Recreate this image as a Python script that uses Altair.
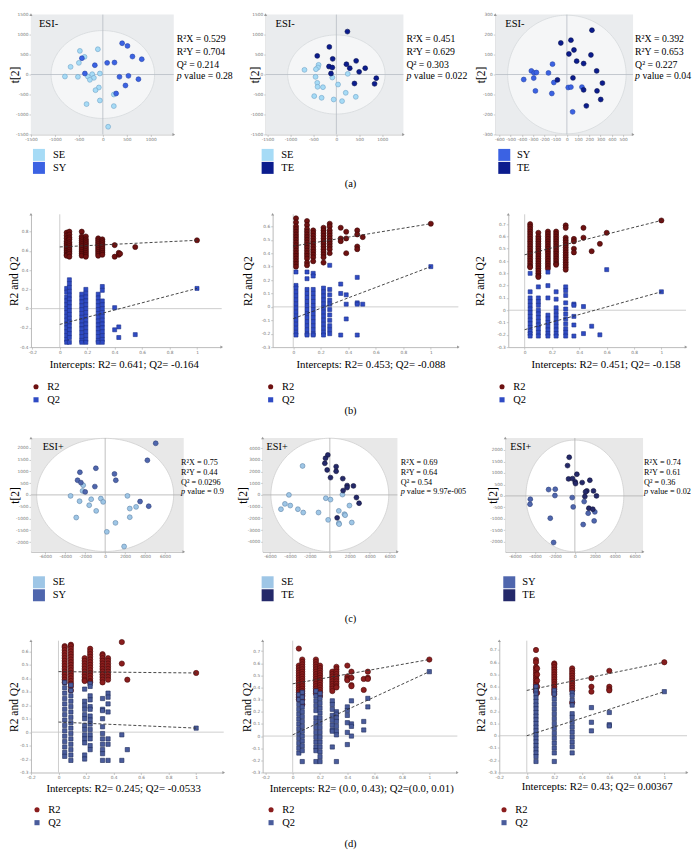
import altair as alt
import numpy as np
import pandas as pd

SERIF = "Liberation Serif"
SANS = "DejaVu Sans"

# ---------------- (a) ESI- score plots: points (t[1], t[2]) ----------------
A1_SE = [(-479, 591), (-382, 441), (-104, 633), (-500, 292), (-673, 192), (-791, -50), (-520, -58),
         (-312, -50), (-222, 8), (-187, -83), (-271, -133), (-62, 25), (-83, -325), (-153, -392),
         (-62, -650), (-340, -741), (229, -500), (229, -791), (111, -1308)]
A1_SY = [(-437, 408), (-167, 233), (-375, 25), (90, 292), (243, 300), (403, 783), (514, 716),
         (618, 450), (812, 383), (347, -58), (534, -33), (743, -117), (472, -275), (278, -475)]
A2_SE = [(-694, 117), (-387, 242), (-402, 175), (-445, 133), (-453, -58), (-416, -208), (-409, -308),
         (-292, -317), (-88, -75), (248, 17), (37, -250), (-482, -541), (-321, -583), (-58, -625),
         (124, -666), (204, -458), (423, -558)]
A2_TE = [(241, 1075), (-153, 691), (-416, 466), (-80, 392), (-161, 200), (-88, 175), (-117, 25),
         (219, 258), (292, 158), (431, 342), (496, 67), (628, 158), (394, -225), (869, -92), (832, -233)]
A3_SY = [(-316, 18), (-292, 8), (-271, 10), (-384, -25), (-295, -18), (-280, -82), (-164, 8),
         (-128, 52), (-116, -40), (-134, -95), (12, -65), (36, -63), (134, -63), (51, -187)]
A3_TE = [(223, 222), (-54, 158), (36, 172), (63, 123), (18, 103), (87, 67), (149, 55), (214, 98),
         (265, 18), (54, -17), (-84, -27), (149, -77), (268, -82), (316, -43), (301, -125), (173, -157)]
A_STATS = [["0.529", "0.704", "0.214", "0.28"],
           ["0.451", "0.629", "0.303", "0.022"],
           ["0.392", "0.653", "0.227", "0.04"]]

# ---------------- (c) ESI+ score plots ----------------
C1_SE = [(-3463, -42), (-2564, -268), (-2198, 409), (-2264, 169), (-1598, -438), (-1399, -184),
         (-899, -678), (-433, -155), (-200, -297), (2231, -42), (2464, -579), (3097, -508),
         (-2897, -960), (2464, -946), (1032, -1186), (167, -1567), (1898, -2189)]
C1_SY = [(5062, 2189), (4229, 1468), (-2531, 960), (-932, 1130), (-2764, 621), (-2431, 522),
         (-1998, 127), (-1032, 353), (932, 890), (1066, 621), (3497, -282), (4362, -480)]
C2_SE = [(-2731, 2471), (-4096, 0), (-4496, -767), (-3963, -909), (-4895, -1221), (-3197, -1221),
         (-2664, -1505), (-1132, -1505), (-400, -284), (67, -398), (1265, 28), (1965, -909),
         (899, -1363), (1465, -1647), (1532, -1732), (-167, -2130), (899, -2414), (932, -2499), (2198, -2357)]
C2_TE = [(-200, 3408), (-433, 3124), (-500, 2698), (-266, 2130), (633, 2414), (633, 2016), (67, 1477),
         (1299, 1392), (1732, 795), (1732, 625), (1332, 369), (2364, 767), (2664, -227), (2930, -710),
         (733, -1960)]
C3_SY = [(-2631, 276), (-1965, 290), (-1998, 15), (-4462, -145), (-4496, -363), (-266, -73),
         (-167, -479), (932, -247), (1332, -754), (1998, -696), (1931, -1088), (833, -1247),
         (-2464, -972), (-2131, -2030)]
C3_TE = [(-566, 1682), (-733, 1320), (-633, 740), (-233, 754), (200, 943), (33, 609), (67, 537),
         (733, 580), (1499, 682), (1199, 218), (1066, 174), (1865, 218), (2165, 0), (999, -29),
         (1399, -537), (1798, -580)]
C_STATS = [["0.75", "0.44", "0.0296", "0.9"],
           ["0.69", "0.64", "0.54", "9.97e-005"],
           ["0.74", "0.61", "0.36", "0.02"]]

# ---------------- (b) permutation tests, ESI- ----------------
B1_R2 = [(0.05, [0.79, 0.76, 0.73, 0.70, 0.68, 0.66, 0.64, 0.62, 0.60, 0.58, 0.56, 0.55]),
         (0.07, [0.80, 0.77, 0.74, 0.72, 0.69, 0.67, 0.65, 0.63, 0.61, 0.59, 0.57, 0.54]),
         (0.16, [0.80, 0.75, 0.73, 0.71, 0.69, 0.67, 0.65, 0.63, 0.61, 0.59, 0.57, 0.55]),
         (0.19, [0.75, 0.72, 0.70, 0.68, 0.66, 0.64, 0.62, 0.60, 0.58, 0.56, 0.54]),
         (0.28, [0.73, 0.71, 0.69, 0.67, 0.65, 0.63, 0.61, 0.59, 0.57, 0.55]),
         (0.31, [0.72, 0.70, 0.68, 0.66, 0.64, 0.62, 0.60, 0.58, 0.56]),
         (0.40, [0.66, 0.54]), (0.43, [0.56, 0.58]), (0.44, [0.57]), (0.55, [0.64]), (1.0, [0.71])]
B1_Q2 = [(0.05, [0.21, 0.17, 0.12, 0.08, 0.04, 0.00, -0.04, -0.08, -0.12, -0.16, -0.20, -0.24, -0.28, -0.32, -0.35]),
         (0.07, [0.30, 0.26, 0.22, 0.18, 0.14, 0.10, 0.06, 0.02, -0.02, -0.06, -0.10, -0.14, -0.18, -0.22, -0.26, -0.30, -0.35]),
         (0.16, [0.15, 0.11, 0.07, 0.03, -0.01, -0.05, -0.09, -0.13, -0.17, -0.21, -0.25, -0.29, -0.33, -0.35]),
         (0.19, [0.20, 0.16, 0.12, 0.08, 0.04, 0.00, -0.04, -0.08, -0.12, -0.16, -0.20, -0.24, -0.28, -0.32, -0.35]),
         (0.28, [0.15, 0.11, 0.07, 0.03, -0.01, -0.05, -0.09, -0.13, -0.17, -0.21, -0.25, -0.29, -0.33, -0.35]),
         (0.31, [0.23, 0.19, 0.08, 0.04, 0.00, -0.04, -0.08, -0.12, -0.16, -0.20, -0.24, -0.28, -0.32, -0.35]),
         (0.40, [0.01, -0.22]), (0.43, [-0.19, -0.30]), (0.55, [-0.27]), (1.0, [0.21])]
B1_LINE = {"R2": [0.641, 0.71], "Q2": [-0.164, 0.21]}

B2_R2 = [(0.02, [0.66, 0.63, 0.60, 0.58, 0.56, 0.54, 0.52, 0.50, 0.48, 0.46, 0.44, 0.42, 0.40, 0.38, 0.36, 0.34, 0.32, 0.30]),
         (0.10, [0.64, 0.61, 0.58, 0.56, 0.54, 0.52, 0.50, 0.48, 0.46, 0.44, 0.42, 0.40, 0.38, 0.36, 0.33, 0.31]),
         (0.145, [0.57, 0.55, 0.53, 0.51, 0.49, 0.47, 0.45, 0.43, 0.41, 0.39, 0.37, 0.34]),
         (0.22, [0.59, 0.57, 0.55, 0.53, 0.51, 0.49, 0.47, 0.45, 0.43, 0.41, 0.39, 0.37, 0.33]),
         (0.265, [0.62, 0.60, 0.57, 0.55, 0.53, 0.51, 0.49, 0.47, 0.45, 0.43, 0.40]),
         (0.345, [0.59, 0.51, 0.49]), (0.385, [0.56, 0.51, 0.40]), (0.465, [0.57, 0.54, 0.45, 0.43]),
         (0.505, [0.52]), (1.0, [0.62])]
B2_Q2 = [(0.02, [0.26, 0.16, 0.14, 0.11, 0.08, 0.05, 0.02, -0.01, -0.04, -0.07, -0.10, -0.13, -0.16, -0.19, -0.21]),
         (0.10, [0.26, 0.21, 0.13, 0.10, 0.07, 0.04, 0.01, -0.02, -0.05, -0.08, -0.11, -0.14, -0.17, -0.20, -0.21]),
         (0.145, [0.25, 0.23, 0.13, 0.10, 0.07, 0.04, 0.01, -0.02, -0.05, -0.08, -0.11, -0.14, -0.17, -0.20, -0.21]),
         (0.22, [0.14, 0.11, 0.08, 0.05, 0.02, -0.01, -0.04, -0.07, -0.10, -0.13, -0.16, -0.19, -0.21]),
         (0.265, [0.31, 0.13, 0.09, 0.05, 0.02, -0.02, -0.06, -0.10, -0.14, -0.17, -0.20]),
         (0.345, [0.17, 0.10, -0.21]), (0.385, [0.09, 0.02, -0.09]), (0.465, [0.22, 0.03, 0.02, -0.21]),
         (0.505, [0.02]), (1.0, [0.30])]
B2_LINE = {"R2": [0.453, 0.62], "Q2": [-0.088, 0.30]}

B3_R2 = [(0.04, [0.70, 0.68, 0.66, 0.64, 0.62, 0.60, 0.58, 0.56, 0.54, 0.52, 0.50, 0.48, 0.46, 0.44, 0.42, 0.40, 0.38, 0.36, 0.35]),
         (0.10, [0.63, 0.60, 0.58, 0.56, 0.54, 0.52, 0.50, 0.48, 0.46, 0.44, 0.42, 0.40, 0.38, 0.36, 0.34, 0.32, 0.30, 0.28, 0.27]),
         (0.17, [0.64, 0.62, 0.60, 0.58, 0.56, 0.54, 0.52, 0.50, 0.48, 0.46, 0.44, 0.42, 0.40, 0.38, 0.36, 0.34]),
         (0.23, [0.64, 0.62, 0.60, 0.58, 0.56, 0.54, 0.52, 0.50, 0.48, 0.46, 0.44, 0.42, 0.40, 0.38, 0.37]),
         (0.30, [0.69, 0.67, 0.59, 0.57, 0.55, 0.53, 0.51, 0.49, 0.47, 0.45, 0.43, 0.41, 0.39, 0.37, 0.35, 0.33]),
         (0.36, [0.58, 0.56, 0.50, 0.47]), (0.43, [0.67, 0.59]), (0.49, [0.48]), (0.55, [0.54]),
         (0.60, [0.63]), (1.0, [0.73])]
B3_Q2 = [(0.04, [0.30, 0.15, 0.10, 0.07, 0.04, 0.01, -0.02, -0.05, -0.08, -0.11, -0.14, -0.17, -0.19, -0.21]),
         (0.10, [0.19, 0.10, 0.07, 0.04, 0.00, -0.03, -0.06, -0.09, -0.12, -0.15, -0.18, -0.21]),
         (0.17, [0.31, 0.20, 0.10, -0.04, -0.07, -0.10, -0.13, -0.16, -0.19, -0.21]),
         (0.23, [0.15, 0.09, 0.02, -0.01, -0.04, -0.07, -0.10, -0.13, -0.16, -0.19, -0.21]),
         (0.30, [0.19, 0.16, 0.12, 0.06, 0.01, -0.03, -0.07, -0.11, -0.15, -0.18, -0.21]),
         (0.36, [0.05, 0.04, -0.05, -0.12, -0.21]), (0.43, [0.03, -0.19]), (0.49, [-0.13]),
         (0.55, [-0.20]), (0.60, [0.33]), (1.0, [0.15])]
B3_LINE = {"R2": [0.451, 0.73], "Q2": [-0.158, 0.15]}

# ---------------- (d) permutation tests, ESI+ ----------------
D1_R2 = [(0.045, [0.64, 0.63, 0.61, 0.59, 0.57, 0.55, 0.53, 0.51, 0.49, 0.47, 0.45, 0.43, 0.41, 0.39, 0.37]),
         (0.09, [0.65, 0.64, 0.62, 0.60, 0.58, 0.56, 0.54, 0.52, 0.50, 0.48, 0.46, 0.44, 0.42, 0.40, 0.38, 0.36, 0.34, 0.31]),
         (0.19, [0.55, 0.53, 0.51, 0.49, 0.47, 0.45, 0.43, 0.41, 0.39, 0.38]),
         (0.23, [0.62, 0.60, 0.58, 0.56, 0.54, 0.52, 0.50, 0.48, 0.46, 0.44, 0.42, 0.40, 0.38, 0.37]),
         (0.32, [0.58, 0.57, 0.55, 0.53, 0.51, 0.49, 0.47, 0.45, 0.43, 0.41, 0.39, 0.37]),
         (0.36, [0.55, 0.53, 0.51, 0.49, 0.47, 0.45, 0.43, 0.41, 0.39]),
         (0.46, [0.67, 0.51]), (0.50, [0.39]), (1.0, [0.44])]
D1_Q2 = [(0.045, [0.37, 0.33, 0.29, 0.25, 0.21, 0.17, 0.13, 0.09, 0.05, 0.01, -0.03, -0.07, -0.11, -0.15, -0.18]),
         (0.09, [0.35, 0.31, 0.27, 0.23, 0.19, 0.15, 0.11, 0.07, 0.03, -0.01, -0.05, -0.09, -0.13, -0.17, -0.21]),
         (0.19, [0.32, 0.23, 0.20, 0.17, 0.13, 0.10, 0.05, 0.02, -0.02, -0.05, -0.08, -0.17, -0.20]),
         (0.23, [0.36, 0.34, 0.27, 0.24, 0.19, 0.17, 0.12, 0.09, 0.06, 0.02, -0.02, -0.05, -0.10, -0.13]),
         (0.32, [0.25, 0.17, 0.16, 0.10, 0.04, -0.01, -0.05, -0.09, -0.13, -0.16, -0.21]),
         (0.36, [0.29, 0.26, 0.21, 0.15, -0.05, -0.09, -0.21]),
         (0.46, [-0.02, -0.21]), (0.50, [-0.13]), (1.0, [0.03])]
D1_LINE = {"R2": [0.45, 0.44], "Q2": [0.075, 0.03]}

D2_R2 = [(0.045, [0.72, 0.58, 0.56, 0.54, 0.52, 0.50, 0.48, 0.46, 0.44, 0.42, 0.40, 0.38, 0.36, 0.34, 0.32, 0.30]),
         (0.07, [0.63, 0.61, 0.59, 0.57, 0.55, 0.53, 0.51, 0.49, 0.47, 0.45, 0.43, 0.41, 0.39, 0.37, 0.35, 0.33, 0.30, 0.26]),
         (0.17, [0.63, 0.61, 0.59, 0.57, 0.55, 0.53, 0.51, 0.49, 0.47, 0.45, 0.43, 0.41, 0.39, 0.37, 0.35]),
         (0.20, [0.58, 0.56, 0.54, 0.52, 0.50, 0.48, 0.46, 0.44, 0.42, 0.40, 0.38, 0.36, 0.33]),
         (0.29, [0.53, 0.51, 0.49, 0.47, 0.45, 0.43, 0.41, 0.39, 0.37]),
         (0.32, [0.57, 0.55, 0.53, 0.51, 0.49, 0.47, 0.45, 0.43, 0.41, 0.40]),
         (0.40, [0.58, 0.49, 0.47, 0.46]), (0.43, [0.53, 0.48, 0.42, 0.41]), (0.52, [0.47, 0.38]),
         (0.55, [0.53, 0.48, 0.47]), (1.0, [0.63])]
D2_Q2 = [(0.045, [0.34, 0.30, 0.26, 0.22, 0.18, 0.14, 0.10, 0.06, 0.02, -0.02, -0.06, -0.10, -0.14]),
         (0.07, [0.36, 0.32, 0.28, 0.24, 0.20, 0.16, 0.12, 0.08, 0.04, 0.00, -0.04, -0.08, -0.12, -0.21]),
         (0.17, [0.37, 0.33, 0.29, 0.25, 0.21, 0.15, 0.11, 0.07, 0.03, -0.01, -0.05, -0.09, -0.12, -0.21]),
         (0.20, [0.35, 0.31, 0.27, 0.23, 0.19, 0.15, 0.11, 0.07, 0.03, -0.01, -0.05, -0.09, -0.13, -0.17, -0.21]),
         (0.29, [0.29, 0.26, 0.22, 0.17, 0.13, 0.09, 0.05, 0.04, -0.09]),
         (0.32, [0.20, 0.18, 0.15, 0.12, 0.08, 0.04, 0.01, -0.21]),
         (0.40, [0.24, 0.21, 0.17, 0.11, 0.03, -0.07]), (0.43, [0.29, 0.10, 0.08, 0.00]),
         (0.52, [0.12, 0.05]), (0.55, [0.31, 0.24]), (1.0, [0.53])]
D2_LINE = {"R2": [0.43, 0.63], "Q2": [0.01, 0.53]}

D3_R2 = [(0.067, [0.70, 0.62, 0.60, 0.56, 0.54, 0.52, 0.50, 0.48, 0.46, 0.44, 0.42, 0.40, 0.38, 0.36]),
         (0.075, [0.55, 0.50, 0.45, 0.40, 0.35]),
         (0.20, [0.59, 0.58, 0.56, 0.54, 0.52, 0.50, 0.48, 0.46, 0.44, 0.42, 0.40, 0.38, 0.36, 0.34]),
         (0.33, [0.55, 0.53, 0.51, 0.49, 0.47, 0.45, 0.43, 0.41, 0.39, 0.37, 0.27]),
         (0.47, [0.47, 0.40, 0.36]), (0.60, [0.53, 0.40, 0.38, 0.37]), (1.0, [0.60])]
D3_Q2 = [(0.067, [0.40, 0.37, 0.34, 0.31, 0.28, 0.25, 0.22, 0.19, 0.16, 0.13, 0.10, 0.07, 0.04, 0.01, -0.02, -0.05, -0.08, -0.11, -0.14, -0.17, -0.21]),
         (0.20, [0.37, 0.34, 0.30, 0.26, 0.22, 0.18, 0.14, 0.10, 0.06, 0.02, -0.02, -0.06, -0.10, -0.14, -0.21]),
         (0.33, [0.35, 0.33, 0.29, 0.25, 0.18, 0.15, 0.11, 0.07, 0.03, -0.01, -0.05, -0.09, -0.14]),
         (0.47, [0.23, 0.11, 0.04]), (0.60, [0.19, 0.09, 0.08]), (1.0, [0.36])]
D3_LINE = {"R2": [0.37, 0.60], "Q2": [0.0, 0.36]}

INTERCEPTS = ["Intercepts: R2= 0.641; Q2= -0.164", "Intercepts: R2= 0.453; Q2= -0.088",
              "Intercepts: R2= 0.451; Q2= -0.158", "Intercepts: R2= 0.245; Q2= -0.0533",
              "Intercepts: R2= (0.0, 0.43); Q2=(0.0, 0.01)", "Intercepts: R2= 0.43; Q2= 0.00367"]

# ---------------- helpers ----------------
ONE = pd.DataFrame({"k": [0]})
TICK = dict(labelFontSize=4.3, labelFont=SANS, labelColor="#777777", tickSize=2, tickColor="#aaaaaa",
            tickWidth=0.6, domainColor="#aaaaaa", domainWidth=0.8, grid=False, labelPadding=1,
            labelOverlap=False, labelFlush=False, labelExpr="'' + datum.value")
LEG_FS = 10.5
CAP_FS = 10.5
W1, W2, W3 = 232, 233, 197          # grid column widths (columns are aligned)


def txt(s, x, y, size, italic=False, align="left"):
    return alt.Chart(ONE).mark_text(text=s, align=align, baseline="middle", font=SERIF, fontSize=size,
                                    fontStyle="italic" if italic else "normal", color="black").encode(
        x=alt.value(x), y=alt.value(y))


def anchor(x, y):
    # white 1px rule that pins the top-left extent of the whole figure
    return alt.Chart(ONE).mark_rule(stroke="white", strokeWidth=1).encode(
        x=alt.value(x), x2=alt.value(x + 1), y=alt.value(y))


def yaxis(values, title, tx, H, ox, fs=11.5):
    return alt.Axis(values=values, title=title, titleX=tx, titleY=H / 2, titleAngle=270, titleBaseline="middle",
                    titleAlign="center", titleFont=SERIF, titleFontSize=fs, titleFontWeight="normal",
                    titleColor="black", offset=-ox, **TICK)


def arrows(X, Y, xdom, ydom, color="#999999"):
    up = alt.Chart(pd.DataFrame({"x": [xdom[0]], "y": [ydom[1]]})).mark_point(
        shape="triangle-up", filled=True, size=9, color=color, opacity=1).encode(x=X("x"), y=Y("y"))
    rt = alt.Chart(pd.DataFrame({"x": [xdom[1]], "y": [ydom[0]]})).mark_point(
        shape="triangle-right", filled=True, size=9, color=color, opacity=1).encode(x=X("x"), y=Y("y"))
    return [up, rt]


def score_panel(groups, labels, fills, strokes, xdom, ydom, xt, yt, ell, ox, pw, cw, H, CH, bg, efill, estroke,
                zc, stats, sx, sy, sfs, esi, exy, efs, ytx, lx, ly, loff, extra=()):
    xsc = alt.Scale(domain=list(xdom), range=[ox, ox + pw], nice=False, zero=False)
    ysc = alt.Scale(domain=list(ydom), range=[H, 0], nice=False, zero=False)
    xax = alt.Axis(values=xt, title=None, offset=-(CH - H), **TICK)
    yax = yaxis(yt, "t[2]", ytx, H, ox)

    def X(f):
        return alt.X(f, type="quantitative", scale=xsc, axis=xax)

    def Y(f):
        return alt.Y(f, type="quantitative", scale=ysc, axis=yax)

    bgdf = pd.DataFrame({"x0": [xdom[0]], "x1": [xdom[1]], "y0": [ydom[0]], "y1": [ydom[1]]})
    layers = [alt.Chart(bgdf).mark_rect(color=bg).encode(x=X("x0"), x2=alt.X2("x1"), y=Y("y0"), y2=alt.Y2("y1"))]
    t = np.linspace(0, np.pi, 91)
    edf = pd.DataFrame({"x": -ell[0] * np.cos(t), "yh": ell[1] * np.sin(t), "yl": -ell[1] * np.sin(t)})
    layers.append(alt.Chart(edf).mark_area(fill=efill, stroke=estroke, strokeWidth=0.8, opacity=1).encode(
        x=X("x"), y=Y("yh"), y2=alt.Y2("yl")))
    layers.append(alt.Chart(pd.DataFrame({"x": [0], "y0": [ydom[0]], "y1": [ydom[1]]})).mark_rule(
        color=zc, strokeWidth=0.8).encode(x=X("x"), y=Y("y0"), y2=alt.Y2("y1")))
    layers.append(alt.Chart(pd.DataFrame({"y": [0], "x0": [xdom[0]], "x1": [xdom[1]]})).mark_rule(
        color=zc, strokeWidth=0.8).encode(y=Y("y"), x=X("x0"), x2=alt.X2("x1")))
    rows = [{"x": x, "y": y, "g": lab} for lab, pts in zip(labels, groups) for (x, y) in pts]
    leg = alt.Legend(title=None, orient="none", legendX=lx + ox, legendY=ly, symbolType="square", symbolSize=144,
                     symbolStrokeWidth=0, labelFont=SERIF, labelFontSize=LEG_FS, labelColor="black", rowPadding=1,
                     padding=0, labelOffset=loff)
    layers.append(alt.Chart(pd.DataFrame(rows)).mark_circle(size=24, strokeWidth=0.6, opacity=1).encode(
        x=X("x"), y=Y("y"),
        color=alt.Color("g:N", scale=alt.Scale(domain=labels, range=fills), legend=leg),
        stroke=alt.Stroke("g:N", scale=alt.Scale(domain=labels, range=strokes), legend=None)))
    layers += arrows(X, Y, xdom, ydom)
    layers.append(txt(esi, exy[0] + ox, exy[1], efs))
    r2x, r2y, q2, p = stats
    sx = sx + ox
    layers += [txt("R²X = " + r2x, sx, sy[0], sfs), txt("R²Y = " + r2y, sx, sy[1], sfs),
               txt("Q² = " + q2, sx, sy[2], sfs), txt("p", sx, sy[3], sfs, italic=True),
               txt("value = " + p, sx + sfs * 0.75, sy[3], sfs)]
    layers += list(extra)
    return alt.layer(*layers).properties(width=cw, height=CH)


def cols_df(cols, s):
    return pd.DataFrame([{"x": x, "y": y, "s": s} for x, ys in cols for y in ys])


def perm_panel(r2cols, q2cols, line, xdom, ydom, xt, yt, ox, pw, cw, H, CH, r2c, r2s, q2c, q2s, r2size, q2size,
               title, tx, ty, ytx, lx, ly, talign="center", extra=()):
    xsc = alt.Scale(domain=list(xdom), range=[ox, ox + pw], nice=False, zero=False)
    ysc = alt.Scale(domain=list(ydom), range=[H, 0], nice=False, zero=False)
    xax = alt.Axis(values=xt, title=title, titleX=tx + ox, titleY=ty, titleBaseline="middle", titleAlign=talign,
                   titleFont=SERIF, titleFontSize=10.8, titleFontWeight="normal", titleColor="black",
                   offset=-(CH - H), **TICK)
    yax = yaxis(yt, "R2 and Q2", ytx, H, ox)

    def X(f):
        return alt.X(f, type="quantitative", scale=xsc, axis=xax)

    def Y(f):
        return alt.Y(f, type="quantitative", scale=ysc, axis=yax)

    zc = "#c2c2c2"
    layers = [
        alt.Chart(pd.DataFrame({"x": [0], "y0": [ydom[0]], "y1": [ydom[1]]})).mark_rule(
            color=zc, strokeWidth=0.8).encode(x=X("x"), y=Y("y0"), y2=alt.Y2("y1")),
        alt.Chart(pd.DataFrame({"y": [0], "x0": [xdom[0]], "x1": [xdom[1]]})).mark_rule(
            color=zc, strokeWidth=0.8).encode(y=Y("y"), x=X("x0"), x2=alt.X2("x1")),
    ]
    cs = alt.Scale(domain=["R2", "Q2"], range=[r2c, q2c])
    ss = alt.Scale(domain=["R2", "Q2"], range=["circle", "square"])
    leg = alt.Legend(title=None, orient="none", legendX=lx + ox, legendY=ly, labelFont=SERIF, labelFontSize=LEG_FS,
                     labelColor="black", symbolSize=26, symbolStrokeWidth=0, rowPadding=2, padding=0,
                     labelOffset=6)
    layers.append(alt.Chart(cols_df(r2cols, "R2")).mark_point(
        filled=True, size=r2size, stroke=r2s, strokeWidth=0.6, opacity=1).encode(
        x=X("x"), y=Y("y"), color=alt.Color("s:N", scale=cs, legend=leg), shape=alt.Shape("s:N", scale=ss, legend=leg)))
    layers.append(alt.Chart(cols_df(q2cols, "Q2")).mark_point(
        filled=True, size=q2size, stroke=q2s, strokeWidth=0.6, opacity=1).encode(
        x=X("x"), y=Y("y"), color=alt.Color("s:N", scale=cs, legend=leg), shape=alt.Shape("s:N", scale=ss, legend=leg)))
    ldf = pd.DataFrame({"x": [0, 1, 0, 1], "y": line["R2"] + line["Q2"], "s": ["R2", "R2", "Q2", "Q2"]})
    layers.append(alt.Chart(ldf).mark_line(strokeDash=[3, 2], color="#333333", strokeWidth=0.9).encode(
        x=X("x"), y=Y("y"), detail="s:N"))
    layers += arrows(X, Y, xdom, ydom)
    layers += list(extra)
    return alt.layer(*layers).properties(width=cw, height=CH)


RES = dict(x="independent", y="independent", color="independent", shape="independent", stroke="independent")

# ---------------- row (a) ----------------
HA, CHA = 120, 200
A_BG, A_EF, A_ES, A_ZC = "#eaecee", "#f5f6f7", "#d6d9dc", "#b6bdc4"
SE_A, SY_A, TE_A = "#a6dbf6", "#3b62e3", "#0b1c8e"
SE_AS, SY_AS, TE_AS = "#6fa3c8", "#2443a8", "#06104f"
A_SY = [24.3, 37.7, 50.3, 61.7]
A_FS = 9.8
yt_a = [-1500, -1000, -500, 0, 500, 1000, 1500]
xt_a = [-1500, -1000, -500, 0, 500, 1000]
a1 = score_panel([A1_SE, A1_SY], ["SE", "SY"], [SE_A, SY_A], [SE_AS, SY_AS], (-1500, 1480), (-1500, 1500),
                 xt_a, yt_a, (1080, 1100), 0, 143, W1, HA, CHA, A_BG, A_EF, A_ES, A_ZC, A_STATS[0], 146, A_SY, A_FS,
                 "ESI-", (8, 9), 10.5, -15.5, 2, 134.5, 8,
                 extra=[anchor(-21.5, -5)])
a2 = score_panel([A2_SE, A2_TE], ["SE", "TE"], [SE_A, TE_A], [SE_AS, TE_AS], (-1540, 1460), (-1500, 1500),
                 xt_a, yt_a, (1060, 990), 3, 138, W2, HA, CHA, A_BG, A_EF, A_ES, A_ZC, A_STATS[1], 141, A_SY, A_FS,
                 "ESI-", (10, 9), 10.5, -10, -4, 134.5, 7.7,
                 extra=[txt("(a)", 88, 170, CAP_FS, align="center")])
a3 = score_panel([A3_SY, A3_TE], ["SY", "TE"], [SY_A, TE_A], [SY_AS, TE_AS], (-637, 589), (-300, 300),
                 [-600, -500, -400, -300, -200, -100, 0, 100, 200, 300, 400, 500], [-300, -200, -100, 0, 100, 200, 300],
                 (527, 297), 0, 138, W3, HA, CHA, A_BG, A_EF, A_ES, A_ZC, A_STATS[2], 140, A_SY, A_FS,
                 "ESI-", (10, 9), 10.5, -14, 3, 134.5, 6.7)

# ---------------- row (b) ----------------
HB, CHB = 133, 224
R2_B, R2_BS, Q2_B, Q2_BS = "#6e1111", "#3b0606", "#2f4bc4", "#1b2f8a"
b1 = perm_panel(B1_R2, B1_Q2, B1_LINE, (-0.21, 1.18), (-0.4, 0.98), [-0.2, 0, 0.2, 0.4, 0.6, 0.8, 1],
                [-0.4, -0.2, 0, 0.2, 0.4, 0.6, 0.8], 0, 191, W1, HB, CHB, R2_B, R2_BS, Q2_B, Q2_BS, 26, 16,
                INTERCEPTS[0], 93, 17, -16, -0.2, 167.5)
b2 = perm_panel(B2_R2, B2_Q2, B2_LINE, (-0.15, 1.2), (-0.3, 0.69), [0, 0.2, 0.4, 0.6, 0.8, 1],
                [-0.3, -0.2, -0.1, 0, 0.1, 0.2, 0.3, 0.4, 0.5, 0.6], 10, 186, W2, HB, CHB, R2_B, R2_BS, Q2_B, Q2_BS,
                26, 16, INTERCEPTS[1], 98, 17, -24, -7.2, 167.5,
                extra=[txt("(b)", 88, 197, CAP_FS, align="center")])
b3 = perm_panel(B3_R2, B3_Q2, B3_LINE, (-0.12, 1.18), (-0.3, 0.78), [0, 0.2, 0.4, 0.6, 0.8, 1],
                [-0.3, -0.2, -0.1, 0, 0.1, 0.2, 0.3, 0.4, 0.5, 0.6, 0.7], 13, 178, W3, HB, CHB, R2_B, R2_BS, Q2_B,
                Q2_BS, 26, 16, INTERCEPTS[2], 172, 17, -28, -11.5, 167.5, talign="right")

# ---------------- row (c) ----------------
HC, CHC = 114, 203
C_BG, C_EF, C_ES, C_ZC = "#e8e8e8", "#ffffff", "#cfcfcf", "#b0b0b0"
SE_C, SY_C, TE_C = "#9ec6e6", "#4f66ad", "#24296a"
SE_CS, SY_CS, TE_CS = "#5f84a8", "#2e3f78", "#101238"
C_SY = [25.3, 35.3, 44.7, 53.7]
C_FS = 8.2
xt_c = [-6000, -4000, -2000, 0, 2000, 4000, 6000]
c1 = score_panel([C1_SE, C1_SY], ["SE", "SY"], [SE_C, SY_C], [SE_CS, SY_CS], (-7430, 7870), (-2415, 2415),
                 xt_c, [-2000, -1500, -1000, -500, 0, 500, 1000, 1500, 2000], (6860, 2400), 0, 153, W1, HC, CHC,
                 C_BG, C_EF, C_ES, C_ZC, C_STATS[0], 150.3, C_SY, C_FS, "ESI+", (11.7, 9.3), 10.2, -15.5, 2, 138.5, 7.7)
c2 = score_panel([C2_SE, C2_TE], ["SE", "TE"], [SE_C, TE_C], [SE_CS, TE_CS], (-6730, 6770), (-4860, 4860),
                 xt_c, [-4000, -3000, -2000, -1000, 0, 1000, 2000, 3000, 4000], (5900, 4840), 0, 135, W2, HC, CHC,
                 C_BG, C_EF, C_ES, C_ZC, C_STATS[1], 138.3, C_SY, C_FS, "ESI+", (4, 9.3), 10.2, -19, -1, 138.5, 7.7,
                 extra=[txt("(c)", 88, 181, CAP_FS, align="center")])
c3 = score_panel([C3_SY, C3_TE], ["SY", "TE"], [SY_C, TE_C], [SY_CS, TE_CS], (-6970, 6830), (-2435, 2522),
                 xt_c, [-2000, -1500, -1000, -500, 0, 500, 1000, 1500, 2000], (4900, 2430), 10, 138, W3, HC, CHC,
                 C_BG, C_EF, C_ES, C_ZC, C_STATS[2], 139, C_SY, C_FS, "ESI+", (5, 9.3), 10.2, -12, -2, 138.5, 7)

# ---------------- row (d) ----------------
HD, CHD = 132, 210
R2_D, R2_DS, Q2_D, Q2_DS = "#8a1d1d", "#4a0a0a", "#4a5c9c", "#1f2b5a"
yt_d = [-0.3, -0.2, -0.1, 0, 0.1, 0.2, 0.3, 0.4, 0.5, 0.6, 0.7]
d1 = perm_panel(D1_R2, D1_Q2, D1_LINE, (-0.2, 1.2), (-0.3, 0.68), [-0.2, 0, 0.2, 0.4, 0.6, 0.8, 1],
                yt_d[:-1], 0, 193, W1, HD, CHD, R2_D, R2_DS, Q2_D, Q2_DS, 28, 18,
                INTERCEPTS[3], 92.3, 16, -16.5, 0.8, 164)
d2 = perm_panel(D2_R2, D2_Q2, D2_LINE, (-0.22, 1.205), (-0.3, 0.785), [-0.2, 0, 0.2, 0.4, 0.6, 0.8, 1],
                yt_d, 0, 195, W2, HD, CHD, R2_D, R2_DS, Q2_D, Q2_DS, 28, 18,
                INTERCEPTS[4], 98.7, 16, -15, 3.2, 164,
                extra=[txt("(d)", 88, 204, CAP_FS, align="center")])
d3 = perm_panel(D3_R2, D3_Q2, D3_LINE, (-0.2, 1.165), (-0.3, 0.776), [-0.2, 0, 0.2, 0.4, 0.6, 0.8, 1],
                yt_d, 4, 188, W3, HD, CHD, R2_D, R2_DS, Q2_D, Q2_DS, 28, 18,
                INTERCEPTS[5], 173, 14, -18, -0.5, 164, talign="right")

chart = alt.concat(a1, a2, a3, b1, b2, b3, c1, c2, c3, d1, d2, d3, columns=3, spacing=0, bounds="flush",
                   align="each").resolve_scale(**RES).properties(
    padding=0, background="white").configure_view(stroke=None)

chart.save("out.html", embed_options={"renderer": "svg", "actions": False})
